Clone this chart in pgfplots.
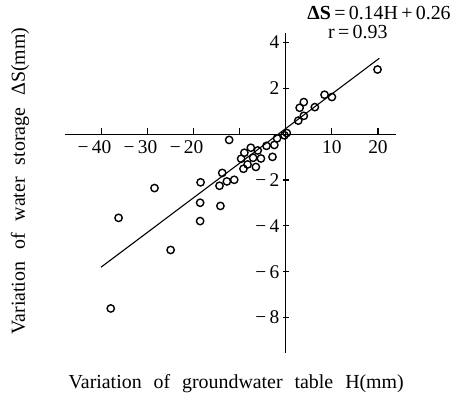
\documentclass[border=0pt]{standalone}
\usepackage{pgfplots}
\pgfplotsset{compat=1.18}
\usepackage{fontspec}
\setmainfont{Liberation Serif}
\newcommand\lblfont{\fontsize{20}{24}\selectfont}
\newcommand\tickfont{\fontsize{19.5}{22}\selectfont}
\begin{document}
\begin{tikzpicture}
\begin{axis}[
  name=ax,
  scale only axis, width=333pt, height=322pt,
  axis lines=middle,
  axis line style={-, line width=1.2pt},
  xmin=-48, xmax=23.9, ymin=-9.55, ymax=4.42,
  xtick={-40,-30,-20,-10,0,10,20},
  xticklabels={\llap{−\,}40,\llap{−\,}30,\llap{−\,}20,{},\hphantom{00}0,10,20},
  ytick={-8,-6,-4,-2,2,4},
  yticklabels={−\,8,−\,6,−\,4,−\,2,2,4},
  tick align=center, major tick length=6pt,
  tick style={black, line width=1.1pt},
  xtick style={yshift=3pt},
  ticklabel style={font=\tickfont},
  clip=false,
]
\addplot[black, line width=1.1pt] coordinates {(-40.1,-5.8) (20.3,3.31)};
\addplot[only marks, mark=o, mark size=3.7pt, mark options={line width=1.4pt, black}] coordinates {
(19.9,2.82) (10.0,1.62) (8.4,1.72) (6.3,1.18) (3.9,1.40) (3.0,1.15) (3.9,0.80) (2.7,0.59)
(0.2,0.05) (-0.3,-0.05) (-1.9,-0.18) (-2.5,-0.47) (-4.2,-0.51) (-2.9,-0.99) (-12.3,-0.25)
(-7.6,-0.59) (-6.1,-0.71) (-9.0,-0.81) (-9.7,-1.07) (-7.1,-1.03) (-5.4,-1.06) (-8.3,-1.32)
(-6.5,-1.43) (-9.2,-1.51) (-13.8,-1.69) (-12.8,-2.06) (-11.2,-1.99) (-14.4,-2.25) (-18.5,-2.1)
(-28.5,-2.35) (-36.3,-3.65) (-18.6,-2.99) (-14.2,-3.13) (-18.6,-3.79) (-25.0,-5.05) (-38.0,-7.6)
};
\node[font=\lblfont] at (axis description cs:0.949,1.062) {\textbf{ΔS}\,=\,0.14H\,+\,0.26};
\node[font=\lblfont] at (axis description cs:0.885,1.003) {r\,=\,0.93};
\node[font=\lblfont] at (axis description cs:0.518,-0.095) {\spaceskip=0.6em Variation of groundwater table H(mm)};
\node[font=\lblfont, rotate=90] at (axis description cs:-0.135,0.537) {\spaceskip=0.6em Variation of water storage ΔS(mm)};
\end{axis}
\path ([shift={(-65pt,-41pt)}]ax.south west) rectangle ([shift={(56pt,33pt)}]ax.north east);
\end{tikzpicture}
\end{document}
